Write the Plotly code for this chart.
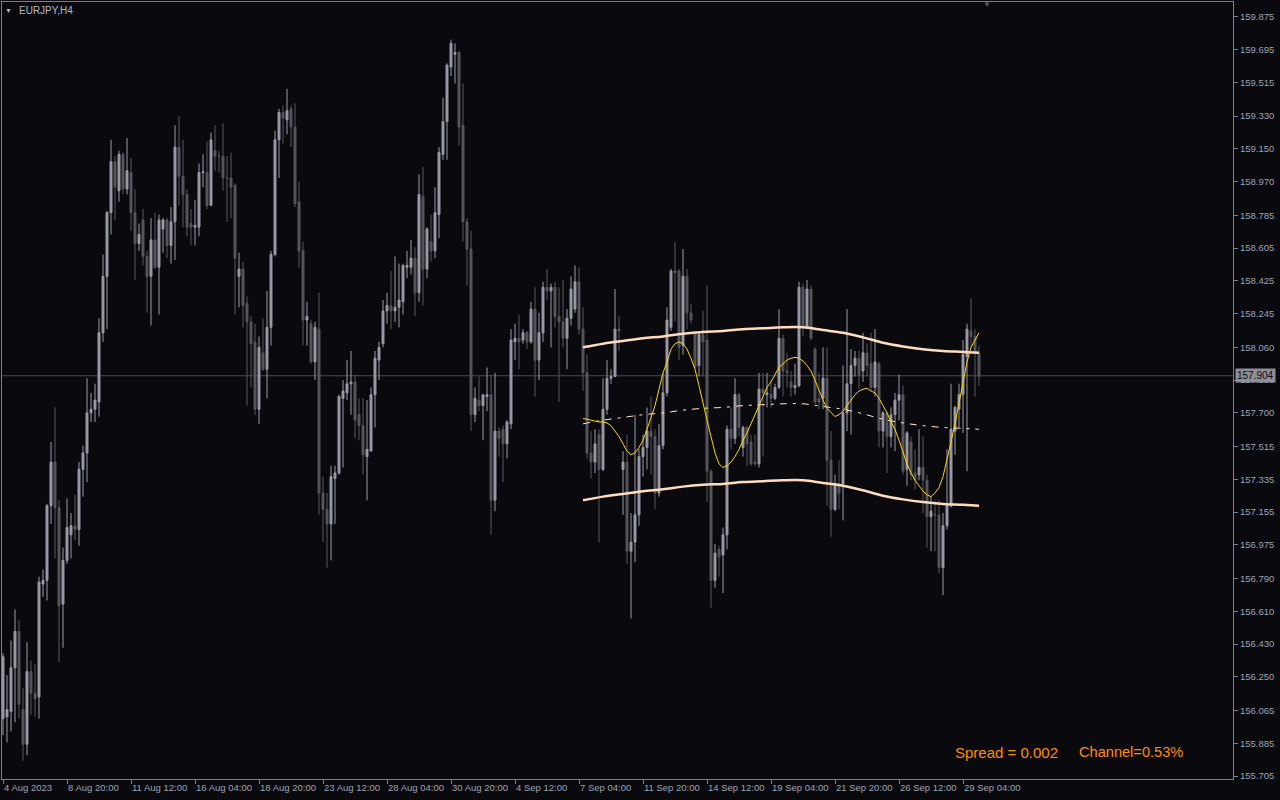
import plotly.graph_objects as go
from datetime import datetime, timedelta

symbol_label = "EURJPY,H4"
last_price = 157.904
spread_text = "Spread = 0.002"
channel_text = "Channel=0.53%"

opens = [156.02, 156.03, 156.06, 156.30, 156.50, 156.07, 155.88, 156.28, 156.16, 156.14,
         156.76, 156.78, 157.19, 157.43, 157.18, 156.65, 156.89, 157.03, 157.08, 157.06,
         157.39, 157.48, 157.70, 157.72, 157.76, 158.14, 158.45, 158.80, 159.08, 158.92,
         159.12, 158.93, 159.02, 158.80, 158.63, 158.76, 158.56, 158.45, 158.65, 158.50,
         158.71, 158.76, 158.62, 158.75, 159.16, 159.00, 158.90, 158.74, 158.72, 158.72,
         159.02, 159.02, 158.84, 159.14, 159.11, 159.11, 158.99, 158.99, 158.95, 158.45,
         158.49, 158.30, 158.20, 158.09, 157.72, 158.03, 157.94, 158.17, 158.57, 159.20,
         159.35, 159.31, 159.37, 159.27, 158.86, 158.59, 158.21, 158.19, 157.98, 158.16,
         157.26, 157.17, 157.09, 157.34, 157.37, 157.78, 157.81, 157.86, 157.87, 157.69,
         157.63, 157.46, 157.49, 157.80, 157.99, 158.08, 158.26, 158.29, 158.26, 158.28,
         158.31, 158.50, 158.50, 158.55, 158.36, 158.89, 158.49, 158.64, 158.59, 158.79,
         159.12, 159.30, 159.60, 159.67, 159.68, 159.28, 158.75, 158.60, 157.69, 157.77,
         157.74, 157.79, 157.80, 157.22, 157.60, 157.61, 157.53, 157.64, 158.09, 158.11,
         158.10, 158.14, 158.09, 158.27, 157.99, 158.14, 158.39, 158.37, 158.39, 158.23,
         158.20, 158.11, 158.22, 158.27, 158.42, 158.16, 157.92, 157.48, 157.43, 157.58,
         157.39, 157.72, 157.89, 157.90, 158.16, 157.39, 157.43, 156.94, 156.99, 157.14,
         157.46, 157.51, 157.60, 157.57, 157.26, 157.52, 157.81, 158.17, 158.48, 158.48,
         158.07, 158.45, 158.25, 158.14, 157.96, 158.13, 158.10, 157.38, 156.78, 156.95,
         156.92, 157.03, 157.61, 157.56, 157.80, 157.51, 157.62, 157.54, 157.43, 157.42,
         157.83, 157.80, 157.80, 157.78, 157.84, 158.11, 157.93, 157.87, 157.84, 157.85,
         158.39, 158.17, 158.38, 158.05, 157.78, 157.78, 157.89, 157.44, 157.17, 157.31,
         157.31, 157.70, 157.86, 157.96, 158.00, 157.93, 158.03, 157.97, 157.84, 157.97,
         157.60, 157.70, 157.57, 157.69, 157.77, 157.80, 157.39, 157.54, 157.37, 157.36,
         157.40, 157.33, 157.13, 157.14, 157.14, 156.85, 157.08, 157.19, 157.60, 157.72,
         157.80, 158.01, 158.15, 158.12, 158.03]
highs = [156.38, 156.26, 156.45, 156.62, 156.56, 156.19, 156.44, 156.34, 156.32, 156.80,
         156.84, 157.20, 157.54, 157.73, 157.22, 156.96, 157.23, 157.15, 157.25, 157.43,
         157.52, 157.89, 157.81, 157.86, 158.22, 158.57, 158.81, 159.20, 159.11, 159.14,
         159.13, 159.21, 159.10, 158.93, 158.74, 158.82, 158.59, 158.77, 158.80, 158.79,
         158.77, 158.77, 158.83, 159.28, 159.33, 159.20, 158.93, 158.82, 158.87, 159.07,
         159.12, 159.19, 159.24, 159.28, 159.14, 159.29, 159.11, 159.13, 158.96, 158.58,
         158.53, 158.34, 158.23, 158.19, 158.12, 158.22, 158.37, 158.59, 159.25, 159.37,
         159.39, 159.48, 159.39, 159.40, 158.97, 158.64, 158.31, 158.21, 158.20, 158.36,
         157.35, 157.26, 157.41, 157.41, 157.80, 157.88, 157.99, 158.04, 157.91, 157.78,
         157.78, 157.77, 157.84, 158.04, 158.09, 158.32, 158.36, 158.48, 158.56, 158.52,
         158.52, 158.59, 158.65, 158.61, 159.01, 159.05, 158.72, 158.79, 158.94, 159.16,
         159.43, 159.62, 159.75, 159.73, 159.69, 159.51, 158.77, 158.70, 157.84, 157.90,
         157.80, 157.95, 157.91, 157.92, 157.62, 157.63, 157.66, 158.16, 158.19, 158.24,
         158.16, 158.15, 158.31, 158.39, 158.25, 158.42, 158.49, 158.41, 158.42, 158.39,
         158.43, 158.27, 158.45, 158.51, 158.50, 158.28, 158.02, 157.60, 157.61, 157.61,
         157.89, 157.99, 157.94, 158.38, 158.23, 157.49, 157.58, 157.15, 157.69, 157.50,
         157.58, 157.73, 157.79, 157.61, 157.64, 157.92, 158.28, 158.49, 158.64, 158.49,
         158.60, 158.49, 158.30, 158.15, 158.14, 158.26, 158.40, 157.39, 156.98, 156.97,
         157.07, 157.63, 157.73, 157.89, 157.81, 157.63, 157.63, 157.58, 157.58, 157.92,
         157.92, 157.92, 157.88, 157.86, 158.27, 158.13, 158.03, 157.93, 157.97, 158.42,
         158.41, 158.43, 158.40, 158.06, 157.92, 158.06, 158.06, 157.60, 157.36, 157.44,
         157.96, 158.27, 158.05, 158.04, 158.04, 158.14, 158.08, 158.14, 158.16, 157.98,
         157.71, 157.71, 157.73, 157.81, 157.91, 157.85, 157.60, 157.57, 157.50, 157.61,
         157.57, 157.36, 157.24, 157.22, 157.22, 157.15, 157.50, 157.86, 157.74, 157.86,
         158.10, 158.19, 158.33, 158.16, 158.07]
lows = [155.93, 155.89, 155.95, 156.00, 156.02, 155.79, 155.82, 156.04, 156.03, 156.02,
        156.69, 156.67, 157.09, 156.90, 156.33, 156.41, 156.87, 156.90, 157.00, 156.97,
        157.24, 157.32, 157.65, 157.65, 157.68, 158.09, 158.16, 158.68, 158.76, 158.86,
        158.90, 158.90, 158.70, 158.43, 158.59, 158.51, 158.25, 158.18, 158.49, 158.24,
        158.58, 158.55, 158.52, 158.54, 158.84, 158.72, 158.67, 158.62, 158.62, 158.67,
        158.94, 158.82, 158.84, 159.03, 159.02, 158.92, 158.75, 158.77, 158.24, 158.28,
        158.17, 157.74, 157.84, 157.69, 157.64, 157.93, 157.78, 158.07, 158.56, 158.99,
        159.18, 159.23, 159.16, 158.83, 158.50, 158.07, 158.07, 157.97, 157.88, 157.14,
        156.99, 156.85, 156.89, 157.09, 157.36, 157.40, 157.77, 157.69, 157.56, 157.55,
        157.36, 157.22, 157.49, 157.62, 157.88, 158.06, 158.19, 158.16, 158.20, 158.17,
        158.24, 158.44, 158.46, 158.23, 158.31, 158.29, 158.44, 158.53, 158.55, 158.66,
        159.09, 159.09, 159.55, 159.51, 159.17, 158.64, 158.40, 157.60, 157.65, 157.71,
        157.55, 157.71, 157.03, 157.16, 157.46, 157.32, 157.45, 157.61, 157.99, 157.94,
        158.08, 158.05, 158.08, 157.79, 157.88, 158.09, 158.32, 158.06, 158.17, 157.76,
        158.06, 157.94, 158.18, 158.25, 158.13, 157.82, 157.45, 157.34, 157.37, 156.99,
        157.38, 157.69, 157.86, 157.90, 158.04, 157.14, 156.87, 156.57, 156.88, 157.08,
        157.35, 157.39, 157.36, 157.17, 157.24, 157.50, 157.79, 158.15, 158.20, 157.99,
        158.02, 158.16, 158.19, 157.94, 157.90, 157.90, 157.21, 156.63, 156.74, 156.80,
        156.71, 156.95, 157.50, 157.53, 157.57, 157.46, 157.41, 157.41, 157.41, 157.40,
        157.46, 157.73, 157.73, 157.77, 157.83, 157.79, 157.84, 157.79, 157.80, 157.84,
        158.12, 158.16, 158.10, 157.75, 157.72, 157.72, 157.19, 157.02, 157.16, 157.17,
        157.11, 157.60, 157.58, 157.90, 157.83, 157.87, 157.90, 157.82, 157.79, 157.51,
        157.51, 157.37, 157.51, 157.49, 157.66, 157.36, 157.30, 157.33, 157.28, 157.33,
        157.15, 156.96, 156.94, 156.94, 156.82, 156.70, 157.06, 157.18, 157.47, 157.62,
        157.59, 157.38, 158.06, 157.79, 157.85]
closes = [156.36, 156.07, 156.30, 156.50, 156.10, 155.88, 156.28, 156.16, 156.13, 156.77,
          156.78, 157.19, 157.43, 157.18, 156.64, 156.89, 157.07, 157.08, 157.06, 157.39,
          157.48, 157.70, 157.72, 157.77, 158.14, 158.45, 158.80, 159.08, 158.94, 159.12,
          158.93, 159.03, 158.80, 158.63, 158.68, 158.56, 158.45, 158.65, 158.50, 158.76,
          158.76, 158.62, 158.75, 159.16, 159.00, 158.90, 158.72, 158.72, 158.73, 159.02,
          159.025, 158.84, 159.20, 159.11, 159.11, 158.99, 158.99, 158.94, 158.55, 158.49,
          158.29, 158.20, 158.08, 157.72, 158.06, 157.94, 158.17, 158.57, 159.20, 159.35,
          159.32, 159.36, 159.27, 158.85, 158.59, 158.21, 158.23, 157.98, 158.17, 157.26,
          157.17, 157.09, 157.35, 157.37, 157.79, 157.82, 157.86, 157.87, 157.66, 157.63,
          157.47, 157.50, 157.80, 158.00, 158.06, 158.26, 158.29, 158.26, 158.28, 158.32,
          158.51, 158.51, 158.55, 158.36, 158.90, 158.49, 158.71, 158.59, 158.80, 159.13,
          159.30, 159.61, 159.73, 159.68, 159.27, 158.75, 158.60, 157.69, 157.78, 157.74,
          157.80, 157.80, 157.22, 157.60, 157.56, 157.53, 157.65, 158.10, 158.11, 158.09,
          158.14, 158.09, 158.27, 157.99, 158.14, 158.39, 158.37, 158.39, 158.23, 158.20,
          158.11, 158.22, 158.38, 158.42, 158.16, 157.92, 157.48, 157.43, 157.53, 157.39,
          157.72, 157.89, 157.90, 158.16, 158.15, 157.43, 156.94, 156.99, 157.14, 157.46,
          157.51, 157.60, 157.57, 157.26, 157.52, 157.81, 158.21, 158.48, 158.47, 158.06,
          158.45, 158.25, 158.21, 157.95, 158.13, 158.09, 157.38, 156.78, 156.93, 156.91,
          157.03, 157.61, 157.56, 157.80, 157.62, 157.62, 157.53, 157.42, 157.42, 157.83,
          157.81, 157.81, 157.78, 157.84, 158.11, 157.93, 157.92, 157.84, 157.85, 158.39,
          158.17, 158.38, 158.11, 157.76, 157.76, 157.89, 157.44, 157.17, 157.31, 157.26,
          157.70, 157.86, 157.96, 158.00, 157.91, 158.03, 157.96, 157.84, 157.98, 157.60,
          157.70, 157.57, 157.69, 157.77, 157.80, 157.38, 157.59, 157.36, 157.33, 157.40,
          157.33, 157.13, 157.16, 157.14, 156.85, 157.08, 157.19, 157.61, 157.73, 157.80,
          158.02, 158.16, 158.12, 158.03, 157.90]

# H4 bar times (weekdays only), first visible bar 4 Aug 2023 04:00
times = []
t = datetime(2023, 8, 4, 4, 0)
while len(times) < len(closes):
    if t.weekday() < 5:
        times.append(t.strftime("%Y-%m-%d %H:%M"))
    t += timedelta(hours=4)

x_tick_times = ["2023-08-04 04:00", "2023-08-08 20:00", "2023-08-11 12:00", "2023-08-16 04:00",
                "2023-08-18 20:00", "2023-08-23 12:00", "2023-08-28 04:00", "2023-08-30 20:00",
                "2023-09-04 12:00", "2023-09-07 04:00", "2023-09-11 20:00", "2023-09-14 12:00",
                "2023-09-19 04:00", "2023-09-21 20:00", "2023-09-26 12:00", "2023-09-29 04:00"]
x_tick_text = ["4 Aug 2023", "8 Aug 20:00", "11 Aug 12:00", "16 Aug 04:00", "18 Aug 20:00",
               "23 Aug 12:00", "28 Aug 04:00", "30 Aug 20:00", "4 Sep 12:00", "7 Sep 04:00",
               "11 Sep 20:00", "14 Sep 12:00", "19 Sep 04:00", "21 Sep 20:00", "26 Sep 12:00",
               "29 Sep 04:00"]

y_tick_vals = [159.875, 159.695, 159.515, 159.330, 159.150, 158.970, 158.785, 158.605,
               158.425, 158.245, 158.060, 157.880, 157.700, 157.515, 157.335, 157.155,
               156.975, 156.790, 156.610, 156.430, 156.250, 156.065, 155.885, 155.705]
y_tick_text = ["%.3f" % v for v in y_tick_vals]

# indicator (regression channel + smoothed wave)
ind_start = 145
wave = [157.67, 157.665, 157.66, 157.655, 157.65, 157.65, 157.645, 157.63, 157.60, 157.57,
        157.53, 157.49, 157.47, 157.48, 157.51, 157.55, 157.61, 157.68, 157.74, 157.83,
        157.92, 157.98, 158.05, 158.08, 158.09, 158.08, 158.05, 158.00, 157.94, 157.85,
        157.75, 157.66, 157.57, 157.48, 157.42, 157.40, 157.41, 157.43, 157.46, 157.50,
        157.55, 157.59, 157.64, 157.69, 157.74, 157.79, 157.84, 157.87, 157.91, 157.95,
        157.97, 157.99, 158.00, 158.005, 158.00, 157.985, 157.96, 157.93, 157.88, 157.82,
        157.77, 157.725, 157.70, 157.68, 157.69, 157.71, 157.74, 157.77, 157.80, 157.82,
        157.83, 157.835, 157.82, 157.81, 157.78, 157.74, 157.70, 157.65, 157.61, 157.55,
        157.48, 157.42, 157.37, 157.33, 157.30, 157.27, 157.25, 157.24, 157.26, 157.29,
        157.35, 157.44, 157.54, 157.64, 157.75, 157.87, 157.98, 158.06, 158.10, 158.14]
band_bars = [145, 150, 155, 160, 165, 170, 175, 180, 185, 190, 195, 200, 205, 210, 215,
             220, 225, 230, 235, 240, 244]
band_mid = [157.64, 157.66, 157.675, 157.69, 157.70, 157.715, 157.725, 157.73, 157.74, 157.745,
            157.75, 157.75, 157.735, 157.72, 157.695, 157.665, 157.645, 157.63, 157.62, 157.615,
            157.61]
band_up = [158.06, 158.08, 158.095, 158.11, 158.12, 158.135, 158.145, 158.15, 158.16, 158.165,
           158.17, 158.17, 158.155, 158.14, 158.115, 158.085, 158.065, 158.05, 158.04, 158.035,
           158.03]
band_lo = [157.22, 157.24, 157.255, 157.27, 157.28, 157.295, 157.305, 157.31, 157.32, 157.325,
           157.33, 157.33, 157.315, 157.30, 157.275, 157.245, 157.225, 157.21, 157.20, 157.195,
           157.19]

BG = "#0a0a0e"
FRAME = "#7e7e88"
TXT = "#9ca3b2"
FONT = "Liberation Sans, Arial, sans-serif"
BULL = "#9a9aa6"
BEAR = "#56565c"
BAND = "#ffdcbe"
MID = "#ffe8d2"
WAVE = "#ffd700"

fig = go.Figure()
fig.add_trace(go.Candlestick(
    x=times, open=opens, high=highs, low=lows, close=closes,
    increasing=dict(line=dict(color=BULL, width=1), fillcolor=BULL),
    decreasing=dict(line=dict(color=BEAR, width=1), fillcolor=BEAR),
    whiskerwidth=0, showlegend=False, hoverinfo="skip"))

band_x = [times[i] for i in band_bars]
fig.add_trace(go.Scatter(x=band_x, y=band_up, mode="lines", line=dict(color=BAND, width=2.5, shape="spline"),
                         showlegend=False, hoverinfo="skip"))
fig.add_trace(go.Scatter(x=band_x, y=band_lo, mode="lines", line=dict(color=BAND, width=2.5, shape="spline"),
                         showlegend=False, hoverinfo="skip"))
fig.add_trace(go.Scatter(x=band_x, y=band_mid, mode="lines",
                         line=dict(color=MID, width=1, dash="7px,6px,3px,6px", shape="spline"),
                         showlegend=False, hoverinfo="skip"))
fig.add_trace(go.Scatter(x=times[ind_start:ind_start + len(wave)], y=wave, mode="lines",
                         line=dict(color=WAVE, width=1), showlegend=False, hoverinfo="skip"))

fig.add_shape(type="line", xref="paper", x0=0, x1=1, yref="y", y0=last_price, y1=last_price,
              line=dict(color="#4a4a52", width=1), layer="below")

W, H = 1280, 800
ml, mr, mt, mb = 2, 47, 2, 21
pw, ph = W - ml - mr, H - mt - mb

def px_x(px):
    return (px - ml) / pw

def px_y(py):
    return (H - mb - py) / ph

annotations = [
    dict(x=1, xref="paper", xanchor="left", xshift=2, y=last_price, yref="y", yanchor="middle",
         text="157.904", showarrow=False, bgcolor="#8e8e96", borderpad=1,
         font=dict(family=FONT, size=10, color="#0c0c10")),
    dict(x=px_x(17), xref="paper", xanchor="left", y=px_y(10), yref="paper", yanchor="middle",
         text=symbol_label, showarrow=False, font=dict(family=FONT, size=10, color="#b4b8c4")),
    dict(x=px_x(8), xref="paper", xanchor="center", y=px_y(10), yref="paper", yanchor="middle",
         text="▼", showarrow=False, font=dict(family=FONT, size=7, color="#b4b8c4")),
    dict(x=px_x(987), xref="paper", xanchor="center", y=px_y(5), yref="paper", yanchor="middle",
         text="▼", showarrow=False, font=dict(family=FONT, size=8, color="#5a5a64")),
    dict(x=px_x(953), xref="paper", xanchor="left", y=px_y(752), yref="paper", yanchor="middle",
         text=spread_text, showarrow=False, font=dict(family=FONT, size=15, color="#ff8c00")),
    dict(x=px_x(1077), xref="paper", xanchor="left", y=px_y(752), yref="paper", yanchor="middle",
         text=channel_text, showarrow=False, font=dict(family=FONT, size=14.6, color="#ff8c00")),
]

fig.update_layout(
    width=W, height=H,
    margin=dict(l=ml, r=mr, t=mt, b=mb),
    paper_bgcolor=BG, plot_bgcolor=BG,
    showlegend=False,
    annotations=annotations,
    xaxis=dict(type="category", range=[-0.25, 307.5], rangeslider=dict(visible=False),
               showgrid=False, zeroline=False, showline=True, linecolor=FRAME, linewidth=1,
               mirror=True, ticks="outside", ticklen=4, tickcolor=FRAME, tickangle=0,
               tickvals=x_tick_times, ticktext=x_tick_text, ticklabelposition="outside right",
               tickfont=dict(family=FONT, size=9.5, color=TXT), automargin=False),
    yaxis=dict(side="right", range=[155.689, 159.957], showgrid=False, zeroline=False,
               showline=True, linecolor=FRAME, linewidth=1, mirror=True,
               ticks="outside", ticklen=4, tickcolor=FRAME,
               tickvals=y_tick_vals, ticktext=y_tick_text,
               tickfont=dict(family=FONT, size=9.5, color=TXT), automargin=False),
)

fig.write_html("out.html", config={"displayModeBar": False},
               post_script="document.body.style.margin='0';document.body.style.background='#0a0a0e';")
